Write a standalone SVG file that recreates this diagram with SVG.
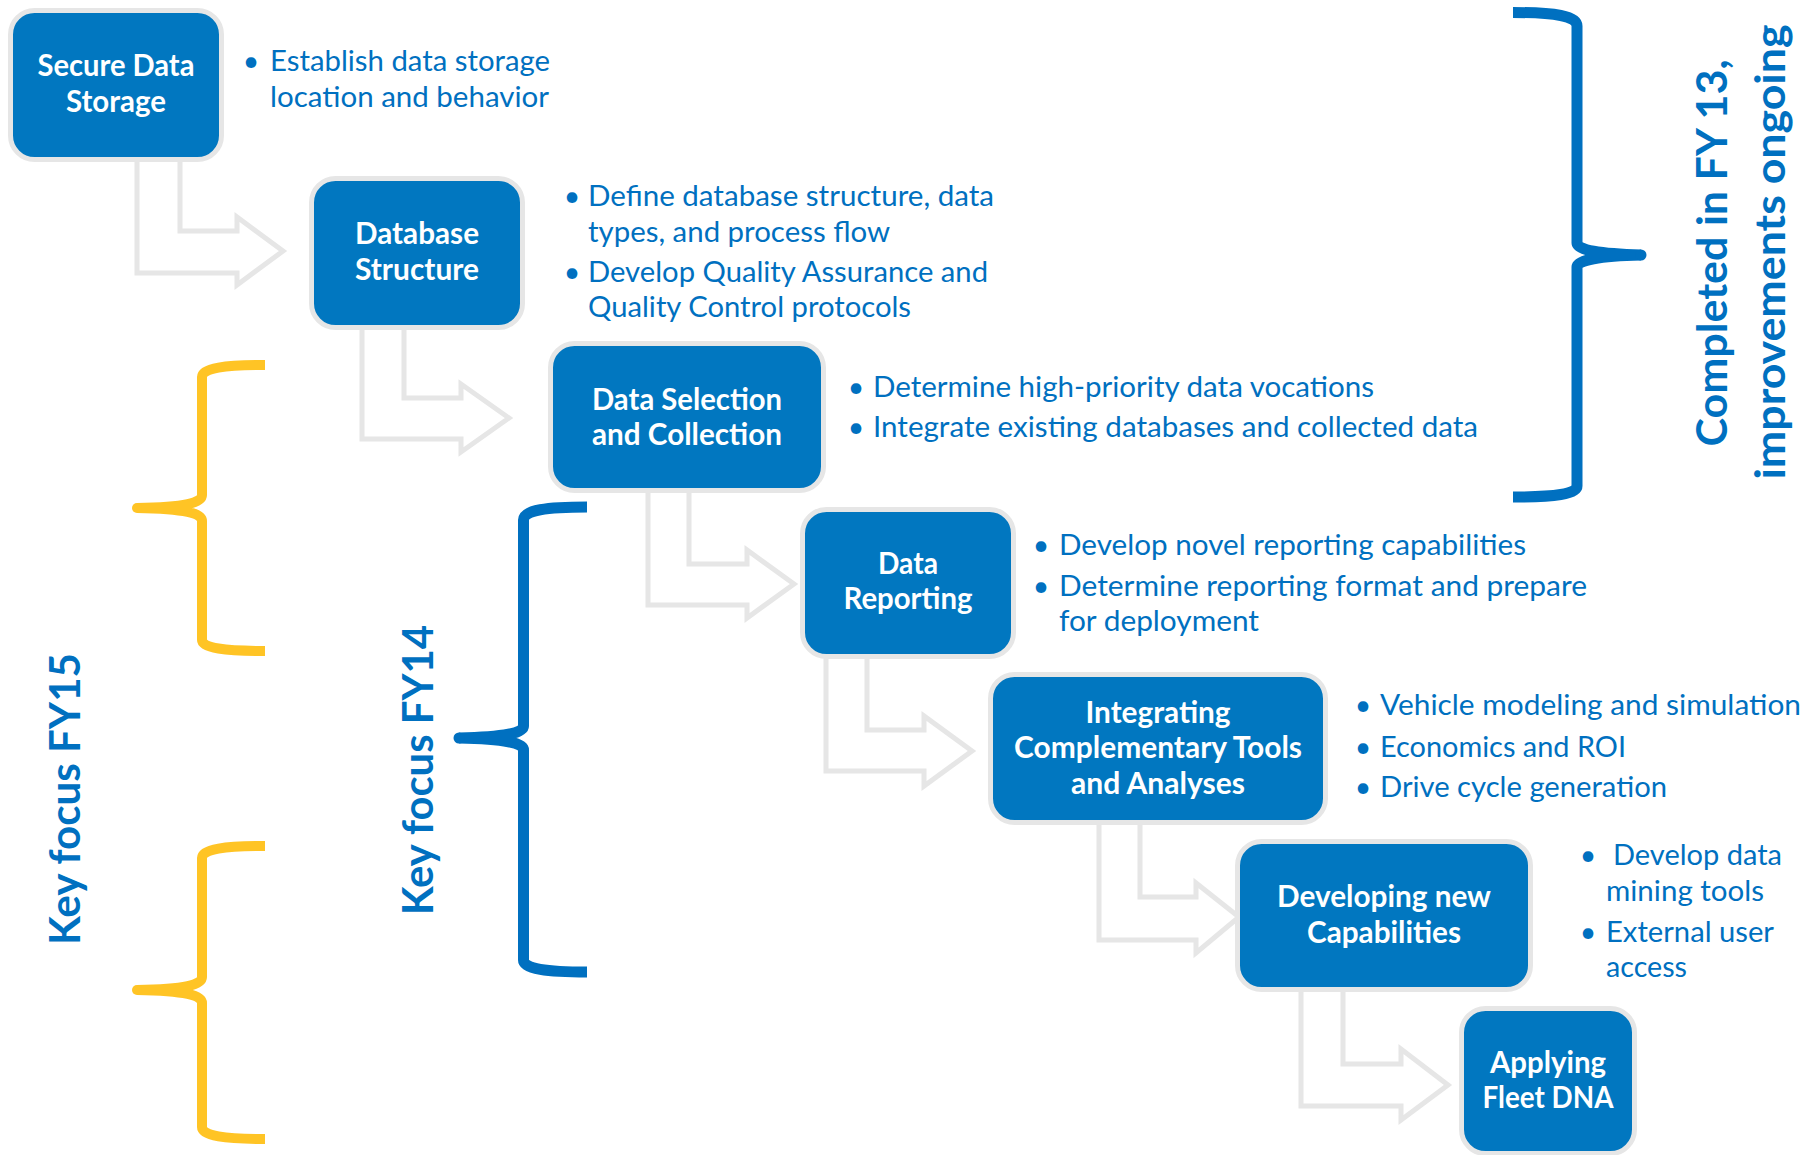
<svg xmlns="http://www.w3.org/2000/svg" width="1808" height="1155" viewBox="0 0 1808 1155">
<style>
.box{fill:#0177c0;stroke:#e6e6e6;stroke-width:5}
.lbl{font-family:Lato,"Liberation Sans",sans-serif;font-weight:700;font-size:29.5px;fill:#ffffff;text-anchor:middle}
.blt{font-family:Lato,"Liberation Sans",sans-serif;font-size:28.5px;fill:#0070c0}
.dot{font-family:Lato,"Liberation Sans",sans-serif;font-size:28.5px;fill:#0070c0;text-anchor:middle}
.arrow{fill:none;stroke:#e6e6e6;stroke-width:5;stroke-linejoin:miter}
.braceb{fill:none;stroke:#0070c0;stroke-width:11}
.bracey{fill:none;stroke:#ffc425;stroke-width:10}
.vlbl{font-family:Lato,"Liberation Sans",sans-serif;font-weight:700;font-size:42px;fill:#0070c0;text-anchor:middle}
</style>
<rect width="1808" height="1155" fill="#ffffff"/>

<g id="connectors">
<polyline class="arrow" points="137,158 137,273 237,273 237,285 283,251 237,217 237,231 180,231 180,158"/>
<polyline class="arrow" points="362,322 362,439 461,439 461,452 509,418 461,384 461,398 404,398 404,322"/>
<polyline class="arrow" points="648,485 648,605 747,605 747,618 794,584 747,550 747,564 689,564 689,485"/>
<polyline class="arrow" points="826,650 826,771 924,771 924,786 972,751 924,716 924,730 867,730 867,650"/>
<polyline class="arrow" points="1099,816 1099,940 1196,940 1196,953 1239,917 1196,883 1196,897 1140,897 1140,816"/>
<polyline class="arrow" points="1301,983 1301,1106 1401,1106 1401,1120 1448,1085 1401,1049 1401,1064 1343,1064 1343,983"/>
</g>

<g id="node-secure-data-storage">
<rect class="box" x="10.5" y="10.5" width="211" height="149" rx="24"/>
<text class="lbl" x="116" y="76" textLength="157" lengthAdjust="spacingAndGlyphs">Secure Data</text>
<text class="lbl" x="116" y="112" textLength="100" lengthAdjust="spacingAndGlyphs">Storage</text>
</g>
<g id="node-database-structure">
<rect class="box" x="311.5" y="178.5" width="211" height="149" rx="24"/>
<text class="lbl" x="417" y="244" textLength="124" lengthAdjust="spacingAndGlyphs">Database</text>
<text class="lbl" x="417" y="280" textLength="124" lengthAdjust="spacingAndGlyphs">Structure</text>
</g>
<g id="node-data-selection">
<rect class="box" x="550.5" y="343.5" width="273" height="147" rx="24"/>
<text class="lbl" x="687" y="410" textLength="190" lengthAdjust="spacingAndGlyphs">Data Selection</text>
<text class="lbl" x="687" y="445" textLength="190" lengthAdjust="spacingAndGlyphs">and Collection</text>
</g>
<g id="node-data-reporting">
<rect class="box" x="802.5" y="509.5" width="211" height="147" rx="24"/>
<text class="lbl" x="908" y="574" textLength="60" lengthAdjust="spacingAndGlyphs">Data</text>
<text class="lbl" x="908" y="609" textLength="129" lengthAdjust="spacingAndGlyphs">Reporting</text>
</g>
<g id="node-integrating">
<rect class="box" x="990.5" y="674.5" width="335" height="148" rx="24"/>
<text class="lbl" x="1158" y="723" textLength="145" lengthAdjust="spacingAndGlyphs">Integrating</text>
<text class="lbl" x="1158" y="758" textLength="288" lengthAdjust="spacingAndGlyphs">Complementary Tools</text>
<text class="lbl" x="1158" y="794" textLength="174" lengthAdjust="spacingAndGlyphs">and Analyses</text>
</g>
<g id="node-developing">
<rect class="box" x="1237.5" y="841.5" width="293" height="148" rx="24"/>
<text class="lbl" x="1384" y="907" textLength="214" lengthAdjust="spacingAndGlyphs">Developing new</text>
<text class="lbl" x="1384" y="943" textLength="154" lengthAdjust="spacingAndGlyphs">Capabilities</text>
</g>
<g id="node-applying">
<rect class="box" x="1461.5" y="1008.5" width="173" height="145" rx="24"/>
<text class="lbl" x="1548" y="1073" textLength="116" lengthAdjust="spacingAndGlyphs">Applying</text>
<text class="lbl" x="1548" y="1108" textLength="131" lengthAdjust="spacingAndGlyphs">Fleet DNA</text>
</g>

<g id="notes-secure">
<text class="dot" x="251" y="71">•</text>
<text class="blt" x="270" y="71" textLength="280" lengthAdjust="spacingAndGlyphs">Establish data storage</text>
<text class="blt" x="270" y="107" textLength="279" lengthAdjust="spacingAndGlyphs">location and behavior</text>
</g>
<g id="notes-database">
<text class="dot" x="572" y="206">•</text>
<text class="blt" x="588" y="206" textLength="406" lengthAdjust="spacingAndGlyphs">Define database structure, data</text>
<text class="blt" x="588" y="242" textLength="302" lengthAdjust="spacingAndGlyphs">types, and process flow</text>
<text class="dot" x="572" y="282">•</text>
<text class="blt" x="588" y="282" textLength="400" lengthAdjust="spacingAndGlyphs">Develop Quality Assurance and</text>
<text class="blt" x="588" y="317" textLength="323" lengthAdjust="spacingAndGlyphs">Quality Control protocols</text>
</g>
<g id="notes-selection">
<text class="dot" x="856" y="397">•</text>
<text class="blt" x="873" y="397" textLength="501" lengthAdjust="spacingAndGlyphs">Determine high-priority data vocations</text>
<text class="dot" x="856" y="437">•</text>
<text class="blt" x="873" y="437" textLength="605" lengthAdjust="spacingAndGlyphs">Integrate existing databases and collected data</text>
</g>
<g id="notes-reporting">
<text class="dot" x="1041" y="555">•</text>
<text class="blt" x="1059" y="555" textLength="467" lengthAdjust="spacingAndGlyphs">Develop novel reporting capabilities</text>
<text class="dot" x="1041" y="596">•</text>
<text class="blt" x="1059" y="596" textLength="528" lengthAdjust="spacingAndGlyphs">Determine reporting format and prepare</text>
<text class="blt" x="1059" y="631" textLength="200" lengthAdjust="spacingAndGlyphs">for deployment</text>
</g>
<g id="notes-integrating">
<text class="dot" x="1363" y="715">•</text>
<text class="blt" x="1380" y="715" textLength="421" lengthAdjust="spacingAndGlyphs">Vehicle modeling and simulation</text>
<text class="dot" x="1363" y="757">•</text>
<text class="blt" x="1380" y="757" textLength="246" lengthAdjust="spacingAndGlyphs">Economics and ROI</text>
<text class="dot" x="1363" y="797">•</text>
<text class="blt" x="1380" y="797" textLength="287" lengthAdjust="spacingAndGlyphs">Drive cycle generation</text>
</g>
<g id="notes-developing">
<text class="dot" x="1588" y="865">•</text>
<text class="blt" x="1613" y="865" textLength="169" lengthAdjust="spacingAndGlyphs">Develop data</text>
<text class="blt" x="1606" y="901" textLength="158" lengthAdjust="spacingAndGlyphs">mining tools</text>
<text class="dot" x="1588" y="942">•</text>
<text class="blt" x="1606" y="942" textLength="168" lengthAdjust="spacingAndGlyphs">External user</text>
<text class="blt" x="1606" y="977" textLength="81" lengthAdjust="spacingAndGlyphs">access</text>
</g>

<g id="brace-fy13">
<path class="braceb" d="M1513,12.5 C1555,12.5 1577,16 1577,26 L1577,243 C1577,250 1600,254 1641,255 M1641,255 C1600,256 1577,260 1577,267 L1577,486 C1577,494 1555,497 1513,497"/>
<circle cx="1641" cy="255" r="5.5" fill="#0070c0"/>
<text class="vlbl" transform="translate(1727,253) rotate(-90)" textLength="387" lengthAdjust="spacingAndGlyphs">Completed in FY 13,</text>
<text class="vlbl" transform="translate(1785,252) rotate(-90)" textLength="455" lengthAdjust="spacingAndGlyphs">improvements ongoing</text>
</g>
<g id="brace-fy14">
<path class="braceb" d="M587,507 C547,507 523.5,510 523.5,520 L523.5,726 C523.5,733 505,737 459,738 M459,738 C505,739 523.5,743 523.5,750 L523.5,960 C523.5,969 547,972 587,972"/>
<circle cx="459" cy="738" r="5.5" fill="#0070c0"/>
<text class="vlbl" transform="translate(433,770) rotate(-90)" textLength="290" lengthAdjust="spacingAndGlyphs">Key focus FY14</text>
</g>
<g id="brace-fy15">
<path class="bracey" d="M265,365 C225,365 202,368 202,377 L202,495 C202,503 185,507 137,508 M137,508 C185,509 202,513 202,521 L202,640 C202,648 225,651 265,651"/>
<circle cx="137" cy="508" r="5" fill="#ffc425"/>
<path class="bracey" d="M265,846 C225,846 202,849 202,858 L202,977 C202,985 185,989 137,990 M137,990 C185,991 202,995 202,1003 L202,1127 C202,1136 225,1139 265,1139"/>
<circle cx="137" cy="990" r="5" fill="#ffc425"/>
<text class="vlbl" transform="translate(80,799) rotate(-90)" textLength="292" lengthAdjust="spacingAndGlyphs">Key focus FY15</text>
</g>
</svg>
